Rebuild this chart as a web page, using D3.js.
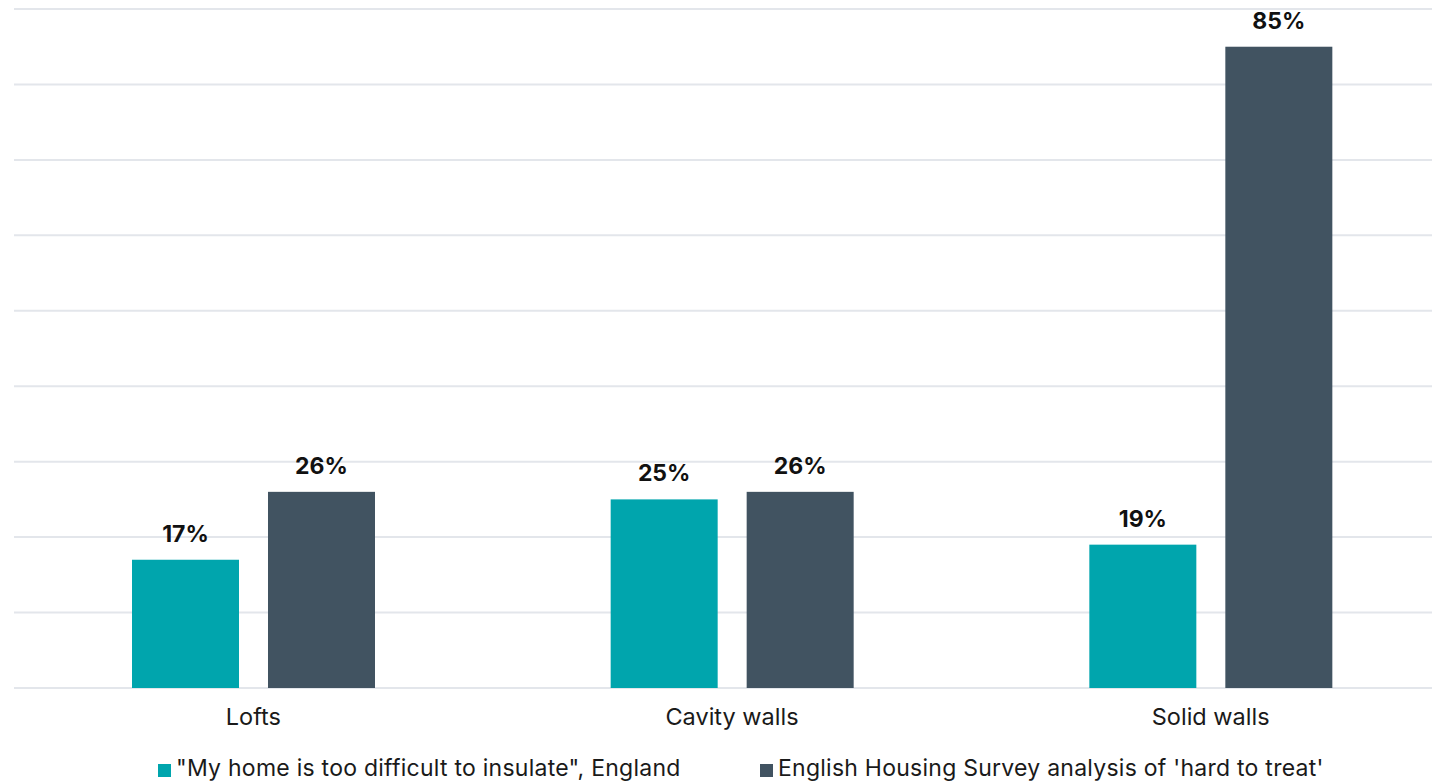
<!DOCTYPE html>
<html>
<head>
<meta charset="utf-8">
<script src="https://cdn.jsdelivr.net/npm/d3@7"></script>
<style>
  html, body { margin: 0; padding: 0; background: #ffffff; overflow: hidden; }
  svg { display: block; font-family: Inter, Roboto, "Noto Sans", sans-serif; }
</style>
</head>
<body>
<svg id="chart" width="1432" height="781"></svg>
<script>
// Categories, series and values
const categories = ["Lofts", "Cavity walls", "Solid walls"];
const seriesNames = ["\"My home is too difficult to insulate\", England",
                     "English Housing Survey analysis of 'hard to treat'"];
const seriesColors = ["#00a5ad", "#415361"];
const tooDifficult = [17, 25, 19];
const hardToTreat = [26, 26, 85];
const yTicks = [0, 10, 20, 30, 40, 50, 60, 70, 80, 90];

const series = [tooDifficult, hardToTreat];

const svg = d3.select("#chart");

// Category bands run past the right edge of the frame
const x0 = d3.scaleBand().domain(categories).range([14, 1450]).paddingInner(0).paddingOuter(0);
const x1 = d3.scaleBand().domain([0, 1]).range([118, 361]).paddingInner(0.2132);
const y = d3.scaleLinear().domain([0, 90]).range([688, 9]);

// Horizontal gridlines
svg.append("g")
  .selectAll("line")
  .data(yTicks)
  .join("line")
  .attr("x1", 14)
  .attr("x2", 1450)
  .attr("y1", d => y(d))
  .attr("y2", d => y(d))
  .attr("stroke", "#e3e6eb")
  .attr("stroke-width", 2);

// Bars
const groups = svg.append("g")
  .selectAll("g")
  .data(categories)
  .join("g")
  .attr("transform", d => `translate(${x0(d)},0)`);

groups.selectAll("rect")
  .data((c, i) => series.map((s, k) => ({ k, v: s[i] })))
  .join("rect")
  .attr("x", d => x1(d.k))
  .attr("width", x1.bandwidth())
  .attr("y", d => y(d.v))
  .attr("height", d => y(0) - y(d.v))
  .attr("fill", d => seriesColors[d.k]);

// Value labels
groups.selectAll("text")
  .data((c, i) => series.map((s, k) => ({ k, v: s[i] })))
  .join("text")
  .attr("x", d => x1(d.k) + x1.bandwidth() / 2)
  .attr("y", d => y(d.v) - 18)
  .attr("text-anchor", "middle")
  .attr("font-size", 23)
  .attr("font-weight", 700)
  .attr("fill", "#111")
  .text(d => d.v + "%");

// Category axis labels
svg.append("g")
  .selectAll("text")
  .data(categories)
  .join("text")
  .attr("x", d => x0(d) + x0.bandwidth() / 2)
  .attr("y", 725)
  .attr("text-anchor", "middle")
  .attr("font-size", 23.5)
  .attr("fill", "#1a1a1a")
  .text(d => d);

// Legend
const legendX = [158, 760];
const legend = svg.append("g")
  .selectAll("g")
  .data(seriesNames)
  .join("g")
  .attr("transform", (d, i) => `translate(${legendX[i]},0)`);

legend.append("rect")
  .attr("x", 0)
  .attr("y", 764)
  .attr("width", 13)
  .attr("height", 13)
  .attr("fill", (d, i) => seriesColors[i]);

legend.append("text")
  .attr("x", 18)
  .attr("y", 776)
  .attr("font-size", 23)
  .attr("letter-spacing", 0.25)
  .attr("fill", "#1a1a1a")
  .text(d => d);
</script>
</body>
</html>
